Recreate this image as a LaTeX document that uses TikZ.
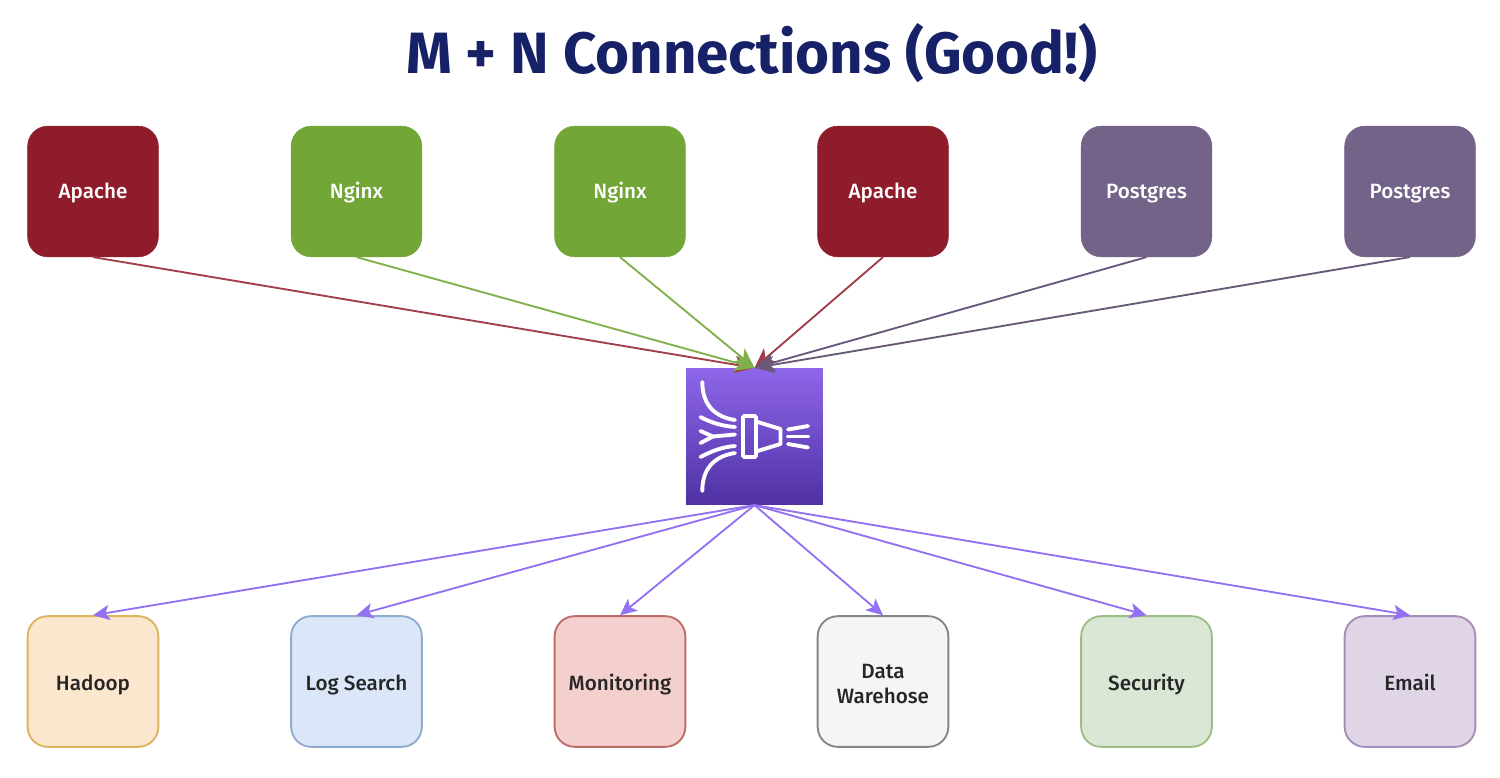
\documentclass[tikz,border=0pt]{standalone}
\usepackage{fontspec}
\setmainfont{Fira Sans}
\newfontfamily\medfont{Fira Sans Medium}
\usetikzlibrary{arrows.meta}
\definecolor{titleblue}{HTML}{162168}
\definecolor{redfill}{HTML}{8F1C2A}
\definecolor{greenfill}{HTML}{72A637}
\definecolor{greyfill}{HTML}{746388}
\definecolor{kintop}{HTML}{8E66EA}
\definecolor{kinbot}{HTML}{4F31A3}
\definecolor{outline}{HTML}{9470F2}
\definecolor{f1}{HTML}{FBE6CE}\definecolor{d1}{HTML}{DEB35F}
\definecolor{f2}{HTML}{DBE7F9}\definecolor{d2}{HTML}{8FABD0}
\definecolor{f3}{HTML}{F3CFCD}\definecolor{d3}{HTML}{BC6C66}
\definecolor{f4}{HTML}{F5F5F5}\definecolor{d4}{HTML}{858585}
\definecolor{f5}{HTML}{D9E7D4}\definecolor{d5}{HTML}{9CBD85}
\definecolor{f6}{HTML}{E0D4E7}\definecolor{d6}{HTML}{A48DB6}
\tikzset{
  x=0.75pt,y=-0.75pt,
  boxbase/.style={rectangle,rounded corners=15pt,minimum width=98pt,minimum height=98pt,inner sep=0pt,align=center,text height=13pt,text depth=0pt,font=\medfont\fontsize{15.5}{18.5}\selectfont},
  srcbox/.style={boxbase,text=white,fill=#1,draw=#1,text height=10.5pt},
  sinkbox/.style={boxbase,text=black!85,fill=f#1,draw=d#1,line width=1.4pt},
  inedge/.style={draw=#1,line width=1.4pt,-{Stealth[length=15pt,width=13pt,inset=4pt]}},
  outedge/.style={draw=outline,line width=1.4pt,-{Stealth[length=12.5pt,width=11.5pt,inset=3pt]}},
  iconline/.style={draw=white,line width=2.9pt,line cap=round,line join=miter},
}
\begin{document}
\begin{tikzpicture}
\useasboundingbox (0,0) rectangle (1500,778);
\node[font=\fontsize{43.7}{50}\selectfont\bfseries,text=titleblue,inner sep=0pt] (title) at (752,53) {M + N Connections (Good!)};

\node[srcbox=redfill]   (a1) at (93,191.5)   {Apache};
\node[srcbox=greenfill] (a2) at (356.5,191.5) {Nginx};
\node[srcbox=greenfill] (a3) at (620,191.5)  {Nginx};
\node[srcbox=redfill]   (a4) at (883,191.5)  {Apache};
\node[srcbox=greyfill]  (a5) at (1146.5,191.5) {Postgres};
\node[srcbox=greyfill]  (a6) at (1410,191.5) {Postgres};

\node[sinkbox=1] (b1) at (93,681.5)   {Hadoop};
\node[sinkbox=2] (b2) at (356.5,681.5) {Log Search};
\node[sinkbox=3] (b3) at (620,681.5)  {Monitoring};
\node[sinkbox=4,text height=32.25pt,text depth=0pt] (b4) at (883,681.5)  {Data\\Warehose};
\node[sinkbox=5] (b5) at (1146.5,681.5) {Security};
\node[sinkbox=6] (b6) at (1410,681.5) {Email};

\node[rectangle,minimum width=102.5pt,minimum height=102.5pt,inner sep=0pt,top color=kintop,bottom color=kinbot,draw=none] (kin) at (754.5,436.5) {};

\draw[inedge={redfill!85!white}] (a1.south) -- (kin.north);
\draw[inedge={greenfill!90!white}] (a2.south) -- (kin.north);
\draw[inedge={greenfill!90!white}] (a3.south) -- (kin.north);
\draw[inedge={redfill!85!white}] (a4.south) -- (kin.north);
\draw[inedge={greyfill!90!black}] (a5.south) -- (kin.north);
\draw[inedge={greyfill!90!black}] (a6.south) -- (kin.north);

\foreach \i in {1,...,6} \draw[outedge] (kin.south) -- (b\i.north);

% service icon
\draw[iconline] (702.3,382) .. controls (702.3,405) and (715,417) .. (735,420);
\draw[iconline] (702.3,491) .. controls (702.3,468) and (715,456) .. (735,453);
\draw[iconline] (700.5,417) .. controls (712,423) and (722,426) .. (735,427);
\draw[iconline] (700.5,431) -- (713,436.5) -- (735,434.5);
\draw[iconline] (700.5,443) -- (713,436.5);
\draw[iconline] (700.5,457) .. controls (712,451) and (722,447) .. (735,446);
\draw[iconline,rounded corners=1pt] (743,416) rectangle (756,457);
\draw[iconline,line join=round] (756,421.5) -- (780.5,429) -- (780.5,444) -- (756,451.5);
\draw[iconline] (788,429.5) -- (808,426);
\draw[iconline] (788,436.5) -- (808,436.5);
\draw[iconline] (788,444) -- (808,447.5);
\end{tikzpicture}
\end{document}
